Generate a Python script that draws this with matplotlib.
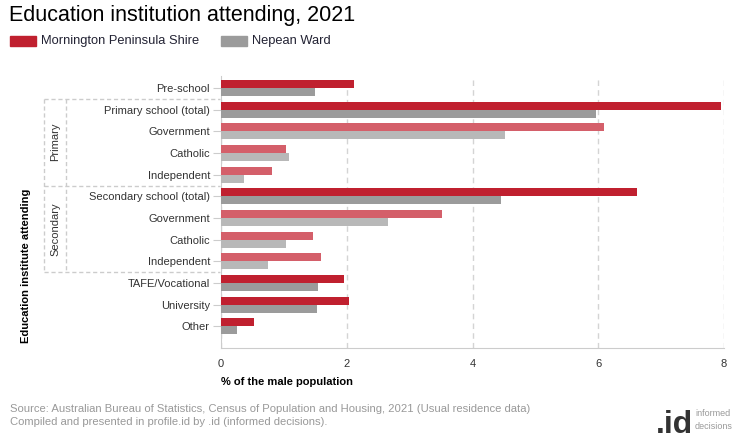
import matplotlib
matplotlib.use("Agg")
import matplotlib.pyplot as plt
from matplotlib.lines import Line2D
from matplotlib.patches import Rectangle
import numpy as np

plt.rcParams['font.family'] = ['Liberation Sans', 'DejaVu Sans']

categories = ["Pre-school", "Primary school (total)", "Government", "Catholic", "Independent",
              "Secondary school (total)", "Government", "Catholic", "Independent",
              "TAFE/Vocational", "University", "Other"]
mornington = [2.11, 7.96, 6.09, 1.03, 0.81, 6.61, 3.52, 1.47, 1.59, 1.96, 2.03, 0.53]
nepean = [1.49, 5.97, 4.52, 1.08, 0.36, 4.45, 2.66, 1.03, 0.74, 1.55, 1.53, 0.25]
sub_rows = [2, 3, 4, 6, 7, 8]  # lighter coloured sub-categories
series_names = ["Mornington Peninsula Shire", "Nepean Ward"]

RED, RED_L = "#C0202F", "#D45F6A"
GREY, GREY_L = "#9B9B9B", "#B8B8B8"

W, H = 740, 440
fig = plt.figure(figsize=(W / 100, H / 100), dpi=100)

def fx(px):
    return px / W

def fy(py):
    return 1 - py / H

ax = fig.add_axes([fx(221), fy(348), fx(724) - fx(221), fy(76) - fy(348)])

y = np.arange(len(categories))
bh = 0.37
red_cols = [RED_L if i in sub_rows else RED for i in y]
grey_cols = [GREY_L if i in sub_rows else GREY for i in y]
ax.barh(y - bh / 2, mornington, height=bh, color=red_cols, zorder=3)
ax.barh(y + bh / 2, nepean, height=bh, color=grey_cols, zorder=3)

ax.set_xlim(0, 8)
ax.set_ylim(12.0, -0.55)
ax.set_xticks([0, 2, 4, 6, 8])
ax.set_yticks(y)
ax.set_yticklabels(categories, fontsize=8, color="#333333")
ax.tick_params(axis="y", length=6, color="#cccccc", pad=2)
ax.tick_params(axis="x", length=0, labelsize=8, colors="#333333", pad=8)
ax.grid(axis="x", linestyle=(0, (4, 3)), color="#d4d4d4", linewidth=1, zorder=0)
for s in ["top", "right"]:
    ax.spines[s].set_visible(False)
ax.spines["left"].set_color("#cccccc")
ax.spines["bottom"].set_color("#cccccc")
ax.set_xlabel("% of the male population", fontsize=8, fontweight="bold", loc="left", labelpad=6)

# group boxes on the left
dash = dict(color="#cccccc", linewidth=1, linestyle=(0, (3, 2)), transform=fig.transFigure)
for (x0, y0, x1, y1) in [(44, 99, 220, 99), (44, 186, 220, 186), (44, 272, 220, 272),
                         (44, 99, 44, 272), (66, 99, 66, 272)]:
    fig.add_artist(Line2D([fx(x0), fx(x1)], [fy(y0), fy(y1)], **dash))
fig.text(fx(55), fy(142), "Primary", rotation=90, ha="center", va="center", fontsize=8, color="#333333")
fig.text(fx(55), fy(229), "Secondary", rotation=90, ha="center", va="center", fontsize=8, color="#333333")
fig.text(fx(26), fy(266), "Education institute attending", rotation=90, ha="center", va="center",
         fontsize=8, fontweight="bold")

# title and legend
fig.text(fx(9), fy(15), "Education institution attending, 2021", fontsize=15.5, va="center")
for (px, col, name) in [(10, RED, series_names[0]), (221, GREY, series_names[1])]:
    fig.add_artist(Rectangle((fx(px), fy(46)), fx(26), fy(36) - fy(46), color=col,
                             transform=fig.transFigure))
    fig.text(fx(px + 31), fy(41), name, fontsize=9.3, color="#222233", va="center")

# source and logo
fig.text(fx(10), fy(409), "Source: Australian Bureau of Statistics, Census of Population and Housing, 2021 (Usual residence data)",
         fontsize=8.1, color="#999999", va="center")
fig.text(fx(10), fy(422), "Compiled and presented in profile.id by .id (informed decisions).",
         fontsize=8.1, color="#999999", va="center")
fig.text(fx(693), fy(433), ".id", fontsize=23, fontweight="bold", color="#333333", ha="right", va="baseline")
fig.text(fx(695), fy(413), "informed", fontsize=6.5, color="#999999", va="center")
fig.text(fx(695), fy(426), "decisions", fontsize=6.5, color="#999999", va="center")

fig.savefig("out.png", dpi=100)
